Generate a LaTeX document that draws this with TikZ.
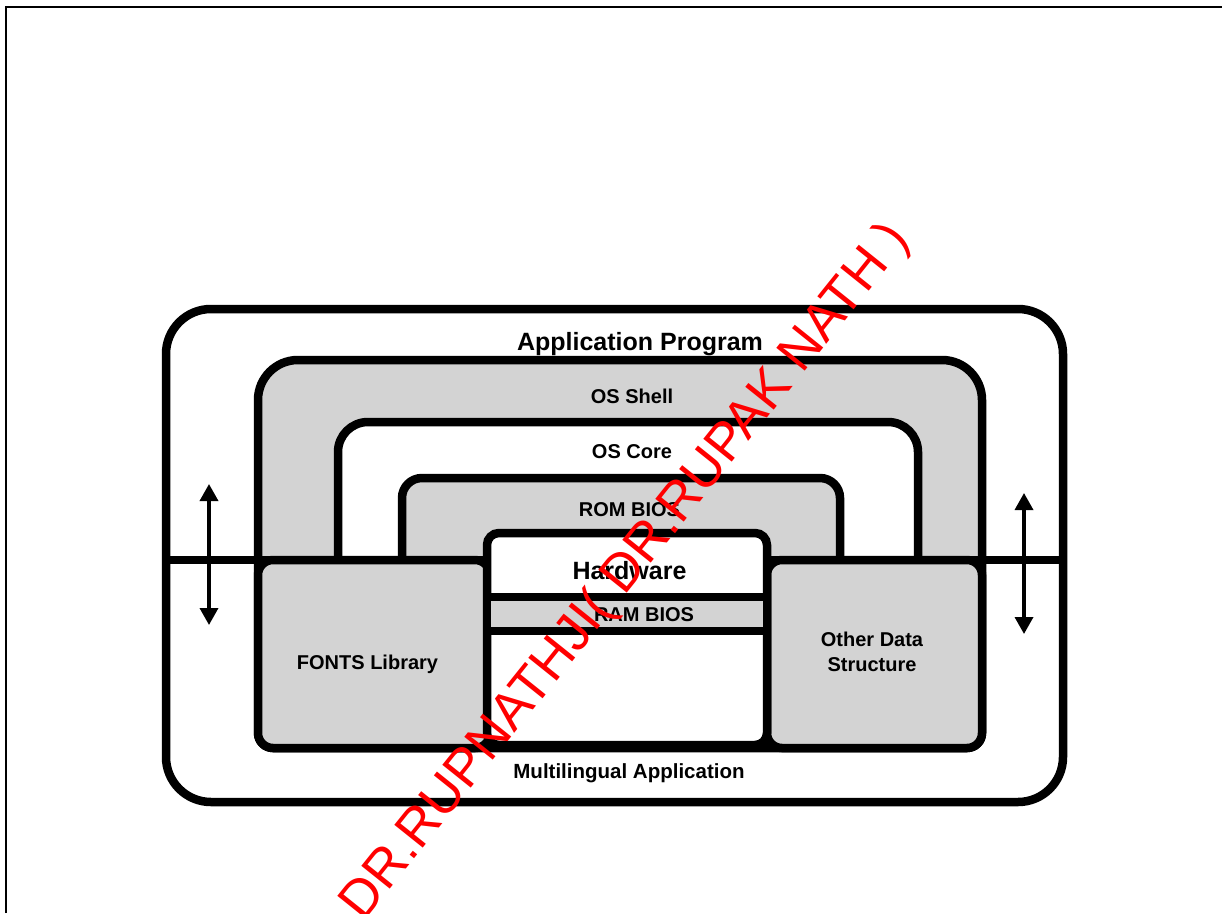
\documentclass[tikz,border=0pt]{standalone}
\usepackage{fontspec}
\setmainfont{Liberation Sans}
\usetikzlibrary{arrows.meta}
\definecolor{shellgray}{RGB}{211,211,211}
\begin{document}
\begin{tikzpicture}[x=1pt, y=-1pt,
    layer/.style={line width=8.5pt, draw=black},
    lbl/.style={font=\bfseries\fontsize{20}{24}\selectfont, anchor=base, inner sep=0pt},
    biglbl/.style={font=\bfseries\fontsize{25}{30}\selectfont, anchor=base, inner sep=0pt},
    updown/.style={line width=3.5pt, {Triangle[width=18pt,length=17pt]}-{Triangle[width=18pt,length=17pt]}}]
  \useasboundingbox (0,0) rectangle (1222,913);
  \draw[line width=2pt] (6,913) -- (6,6.5) -- (1222,6.5);

  % outer layers
  \draw[layer, fill=white, rounded corners=45] (166,309) rectangle (1063,802);
  \draw[layer, fill=shellgray] (258,500) [rounded corners=40] -- (258,360) -- (982,360) -- (982,500)
    [rounded corners=15] -- (982,748) -- (258,748) -- cycle;
  \draw[layer, fill=white] (338,560) [rounded corners=30] -- (338,422) -- (918,422) -- (918,560);
  \draw[layer, fill=shellgray] (402,560) [rounded corners=20] -- (402,478) -- (840,478) -- (840,560);
  \draw[layer] (166,560) -- (1063,560);

  % lower boxes
  \draw[layer, fill=shellgray, rounded corners=15] (258,560) rectangle (490,748);
  \draw[layer, fill=shellgray, rounded corners=15] (767,560) rectangle (982,748);
  \draw[layer, fill=white, rounded corners=12] (487,533) rectangle (767,745);
  \draw[layer, fill=shellgray] (487,597) rectangle (767,631);

  \node[biglbl] (app) at (640,350) {Application Program};
  \node[lbl] (shell) at (632,403) {OS Shell};
  \node[lbl] (core) at (632,458) {OS Core};
  \node[lbl] (rombios) at (629.5,516) {ROM BIOS};
  \node[biglbl] (hw) at (629.5,579) {Hardware};
  \node[lbl] (rambios) at (644,621) {RAM BIOS};
  \node[lbl] (fonts) at (367.5,669) {FONTS Library};
  \node[lbl] (other) at (872,646) {Other Data};
  \node[lbl] (other2) at (872,671) {Structure};
  \node[lbl, font=\bfseries\fontsize{20.5}{24}\selectfont] (multi) at (629,778) {Multilingual Application};

  % arrows
  \coordinate (la) at (209,484);
  \coordinate (lb) at (209,625);
  \coordinate (ra) at (1024,493);
  \coordinate (rb) at (1024,634);
  \draw[updown] (la) -- (lb);
  \draw[updown] (ra) -- (rb);

  \node[rotate=51.3, anchor=base, inner sep=0pt, text=red, font=\fontsize{53}{60}\selectfont] (wmark) at (637,581) {DR.RUPNATHJI( DR.RUPAK NATH )};
\end{tikzpicture}
\end{document}
